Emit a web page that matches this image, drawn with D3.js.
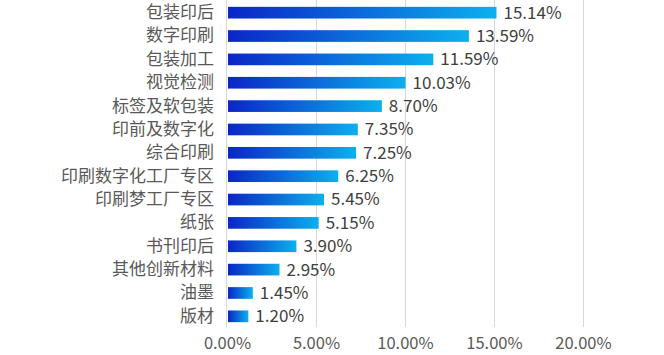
<!DOCTYPE html>
<html><head><meta charset="utf-8">
<script src="https://cdn.jsdelivr.net/npm/d3@7"></script>
<style>body{margin:0;background:#fff}svg{display:block}text{font-family:"Microsoft YaHei","Noto Sans CJK SC",sans-serif}</style>
</head><body><svg id="c" width="664" height="355"></svg>
<script>
const categories = ["包装印后","数字印刷","包装加工","视觉检测","标签及软包装","印前及数字化","综合印刷","印刷数字化工厂专区","印刷梦工厂专区","纸张","书刊印后","其他创新材料","油墨","版材"];
const values = [15.14,13.59,11.59,10.03,8.70,7.35,7.25,6.25,5.45,5.15,3.90,2.95,1.45,1.20];
const ticks = [0,5,10,15,20];

const svg = d3.select("#c");
const x = d3.scaleLinear().domain([0,20]).range([227,583]);
const y = d3.scaleBand().domain(categories).range([1,328]).paddingInner(0.5).paddingOuter(0.25);

const defs = svg.append("defs");
const g = defs.append("linearGradient").attr("id","bg").attr("x1","0").attr("x2","1").attr("y1","0").attr("y2","0");
g.append("stop").attr("offset","0%").attr("stop-color","#0a26c6");
g.append("stop").attr("offset","100%").attr("stop-color","#0cb0ee");

// grid
svg.append("g").selectAll("line").data(ticks.slice(1)).join("line")
  .attr("x1",d=>x(d)+0.5).attr("x2",d=>x(d)+0.5).attr("y1",0).attr("y2",327)
  .attr("stroke","#d9d9d9").attr("stroke-width",1);
// axis line
svg.append("line").attr("x1",x(0)-0.5).attr("x2",x(0)-0.5).attr("y1",0).attr("y2",327).attr("stroke","#d9d9d9");

// x tick labels
const xa = d3.axisBottom(x).tickValues(ticks).tickSize(0).tickFormat(d=>d.toFixed(2)+"%");
const ax = svg.append("g").attr("transform","translate(0,349)").call(xa);
ax.select(".domain").remove();
ax.selectAll("text").attr("font-size",16.5).attr("fill","#595959").attr("y",0).attr("dy",0);

// y labels
const ya = d3.axisLeft(y).tickSize(0).tickPadding(13);
const ay = svg.append("g").attr("transform",`translate(${x(0)},0)`).call(ya);
ay.select(".domain").remove();
ay.selectAll("text").attr("font-size",17).attr("fill","#595959");

// bars
svg.append("g").selectAll("rect").data(values).join("rect")
  .attr("x",x(0)+1).attr("y",(d,i)=>y(categories[i]))
  .attr("width",d=>x(d)-x(0)-1).attr("height",y.bandwidth())
  .attr("fill","url(#bg)");

// value labels
svg.append("g").selectAll("text").data(values).join("text")
  .attr("x",d=>x(d)+7).attr("y",(d,i)=>y(categories[i])+y.bandwidth()/2)
  .attr("dy","0.35em").attr("font-size",17).attr("fill","#404040")
  .text(d=>d.toFixed(2)+"%");
</script></body></html>
